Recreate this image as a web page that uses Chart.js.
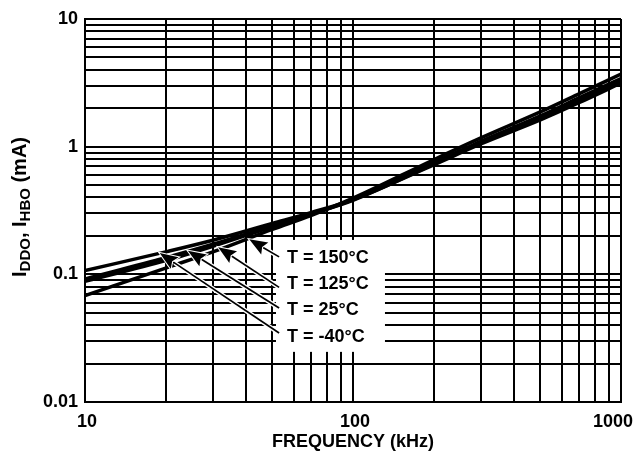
<!DOCTYPE html>
<html>
<head>
<meta charset="utf-8">
<script src="https://cdn.jsdelivr.net/npm/chart.js@4/dist/chart.umd.min.js"></script>
<style>
html,body{margin:0;padding:0;background:#fff}
#wrap{width:639px;height:460px}
</style>
</head>
<body>
<div id="wrap"><canvas id="myChart"></canvas></div>
<script>
// frequency in kHz, current in mA
const freq = [10, 20, 30, 50, 70, 100, 200, 300, 500, 700, 1000]
const i150 = [0.107, 0.150, 0.185, 0.250, 0.305, 0.385, 0.72, 1.05, 1.62, 2.22, 3.15]
const i125 = [0.092, 0.135, 0.172, 0.240, 0.298, 0.380, 0.73, 1.07, 1.67, 2.30, 3.25]
const i25 = [0.088, 0.128, 0.166, 0.236, 0.296, 0.385, 0.75, 1.10, 1.74, 2.42, 3.42]
const iM40 = [0.068, 0.112, 0.150, 0.225, 0.290, 0.395, 0.79, 1.17, 1.87, 2.60, 3.70]
const seriesNames = ['T = 150°C', 'T = 125°C', 'T = 25°C', 'T = -40°C']
const xTickLabels = [10, 100, 1000]
const yTickLabels = [0.01, 0.1, 1, 10]

// where the callouts sit (data coords)
const callouts = [
  {tipF: 41, tipV: 0.188, tailF: 53, tailV: 0.137, textV: 0.134},
  {tipF: 31.4, tipV: 0.163, tailF: 53, tailV: 0.079, textV: 0.084},
  {tipF: 24.2, tipV: 0.153, tailF: 53, tailV: 0.0545, textV: 0.0525},
  {tipF: 19.0, tipV: 0.147, tailF: 53, tailV: 0.0347, textV: 0.0323}
]
const labelBox = {f1: 51.6, f2: 131.6, v1: 0.0247, v2: 0.186, textF: 56.7}

const FONT = '"Liberation Sans", Arial, Helvetica, sans-serif'
const series = [i150, i125, i25, iM40]

function logTicks(min, max){
  let t = []
  for (let e = Math.round(Math.log10(min)); e < Math.round(Math.log10(max)); e++){
    for (let m = 1; m < 10; m++) t.push({value: Number((m*Math.pow(10, e)).toPrecision(6))})
  }
  t.push({value: max})
  return t
}

function arrow(ctx, x1, y1, x2, y2){
  const a = Math.atan2(y2-y1, x2-x1)
  const L = 18, W = 7
  const bx = x2 - L*Math.cos(a), by = y2 - L*Math.sin(a)
  ctx.lineCap = 'butt'
  ctx.strokeStyle = '#fff'; ctx.lineWidth = 4.5
  ctx.beginPath(); ctx.moveTo(x1, y1); ctx.lineTo(bx, by); ctx.stroke()
  ctx.strokeStyle = '#000'; ctx.lineWidth = 1.7
  ctx.beginPath(); ctx.moveTo(x1, y1); ctx.lineTo(bx + 2*Math.cos(a), by + 2*Math.sin(a)); ctx.stroke()
  ctx.beginPath()
  ctx.moveTo(x2, y2)
  ctx.lineTo(bx - W*Math.sin(a), by + W*Math.cos(a))
  ctx.lineTo(bx + 3*Math.cos(a), by + 3*Math.sin(a))
  ctx.lineTo(bx + W*Math.sin(a), by - W*Math.cos(a))
  ctx.closePath()
  ctx.strokeStyle = '#fff'; ctx.lineWidth = 2; ctx.stroke()
  ctx.fillStyle = '#000'; ctx.fill()
}

const extras = {
  id: 'extras',
  beforeDatasetsDraw(chart){
    const ctx = chart.ctx, x = chart.scales.x, y = chart.scales.y
    const px1 = x.getPixelForValue(labelBox.f1), px2 = x.getPixelForValue(labelBox.f2)
    const py1 = y.getPixelForValue(labelBox.v2), py2 = y.getPixelForValue(labelBox.v1)
    ctx.save()
    ctx.fillStyle = '#fff'
    ctx.fillRect(px1, py1, px2-px1, py2-py1)
    ctx.restore()
  },
  afterDatasetsDraw(chart){
    const ctx = chart.ctx, x = chart.scales.x, y = chart.scales.y
    ctx.save()
    for (let i = 0; i < callouts.length; i++){
      const c = callouts[i]
      arrow(ctx, x.getPixelForValue(c.tailF), y.getPixelForValue(c.tailV),
        x.getPixelForValue(c.tipF), y.getPixelForValue(c.tipV))
      ctx.fillStyle = '#000'
      ctx.font = 'bold 18px ' + FONT
      ctx.textAlign = 'left'; ctx.textBaseline = 'middle'
      ctx.fillText(seriesNames[i], x.getPixelForValue(labelBox.textF), y.getPixelForValue(c.textV))
    }
    ctx.restore()
  },
  afterDraw(chart){
    const ctx = chart.ctx, x = chart.scales.x, area = chart.chartArea
    ctx.save()
    ctx.fillStyle = '#000'
    ctx.font = 'bold 18px ' + FONT
    ctx.textBaseline = 'middle'
    for (const v of xTickLabels){
      let t = String(v), w = ctx.measureText(t).width
      let cx = Math.min(x.getPixelForValue(v) + 2, chart.width - 6 - w/2)
      ctx.textAlign = 'center'
      ctx.fillText(t, cx, area.bottom + 20)
    }
    ctx.fillText('FREQUENCY (kHz)', (area.left+area.right)/2, area.bottom + 40)
    // y title with subscripts
    const parts = [['I', 0], ['DDO', 1], [', ', 0], ['I', 0], ['HBO', 1], [' (mA)', 0]]
    const big = 'bold 20px ' + FONT, small = 'bold 15px ' + FONT
    let total = 0
    for (const p of parts){ ctx.font = p[1] ? small : big; total += ctx.measureText(p[0]).width }
    ctx.translate(20, 207)
    ctx.rotate(-Math.PI/2)
    ctx.textAlign = 'left'; ctx.textBaseline = 'alphabetic'
    let pos = -total/2
    for (const p of parts){
      ctx.font = p[1] ? small : big
      ctx.fillText(p[0], pos, p[1] ? 10 : 6)
      pos += ctx.measureText(p[0]).width
    }
    ctx.restore()
  }
}

const gridStyle = {color: '#000', lineWidth: 2, drawTicks: false}
const ctx = document.getElementById('myChart').getContext('2d')
const myChart = new Chart(ctx, {
  type: 'line',
  data: {
    datasets: seriesNames.map((name, k) => ({
      label: name,
      data: freq.map((f, i) => ({x: f, y: series[k][i]})),
      borderColor: '#000',
      borderWidth: 3.5,
      pointRadius: 0,
      fill: false,
      cubicInterpolationMode: 'monotone'
    }))
  },
  options: {
    responsive: true,
    maintainAspectRatio: false,
    animation: false,
    devicePixelRatio: 1,
    layout: {padding: {left: 0, right: 18, top: 19, bottom: 0}},
    plugins: {legend: {display: false}, tooltip: {enabled: false}},
    scales: {
      x: {
        type: 'logarithmic', min: 10, max: 1000,
        afterBuildTicks: s => { s.ticks = logTicks(10, 1000) },
        ticks: {display: false},
        grid: gridStyle,
        border: {color: '#000', width: 2},
        afterFit: s => { s.height = 58; s.paddingLeft = 0; s.paddingRight = 0 }
      },
      y: {
        type: 'logarithmic', min: 0.01, max: 10,
        afterBuildTicks: s => { s.ticks = logTicks(0.01, 10) },
        ticks: {
          color: '#000', padding: 7,
          font: {family: FONT, size: 18, weight: 'bold'},
          autoSkip: false,
          callback: v => yTickLabels.includes(v) ? String(v) : ''
        },
        grid: gridStyle,
        border: {color: '#000', width: 2},
        afterFit: s => { s.width = 85 }
      }
    }
  },
  plugins: [extras]
})
</script>
</body>
</html>
